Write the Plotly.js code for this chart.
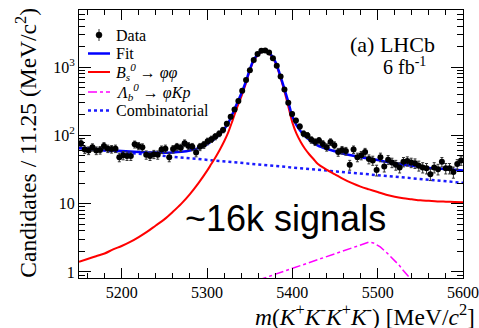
<!DOCTYPE html>
<html><head><meta charset="utf-8">
<script src="https://cdn.plot.ly/plotly-3.0.1.min.js"></script>
<style>html,body{margin:0;padding:0;background:#fff}#plot{width:479px;height:328px}</style>
</head><body><div id="plot"></div>
<script>
// Data histogram: 100 bins of 4.5 MeV from 5150 to 5600 (first bin centre 5152.25)
const binFirstCentre = 5152.25;
const binWidth = 4.5;
const dataCounts = [77,62,60,67,60,61,70,64,63,64,48,51,50,50,74,70,67,52,50,53,
  52,62,64,48,63,68,66,77,70,68,56,68,73,82,88,96,106,120,148,188,
  240,320,450,650,900,1270,1560,1740,1755,1640,1350,1050,730,470,300,205,165,135,106,100,
  86,80,84,75,67,80,72,57,61,59,37,62,48,51,57,45,43,31,48,35,
  44,40,37,34,41,42,40,39,36,34,33,27,34,32,41,33,33,29,38,43];

// Curve sampling points (MeV/c^2)
const curveMass = [5150,5160,5170,5180,5190,5200,5210,5220,5230,5240,5250,5260,5270,5280,5290,5300,
  5305,5310,5315,5320,5325,5330,5335,5340,5345,5350,5355,5360,5365,5370,5375,5380,5385,5390,5395,5400,
  5405,5410,5415,5420,5425,5430,5440,5450,5460,5470,5480,5490,5500,5510,5520,5530,5540,5550,5560,5570,5580,5590,5600];
const fitTotal = [66.0,64.5,63.1,61.6,60.3,59.2,58.1,57.2,56.4,56.0,55.8,56.2,57.4,59.9,65.0,74.1,
  81.3,90.6,103.9,123,153,207,291,403,589,910,1298,1552,1756,1735,1516,1211,812,515,317,190,
  140,114,97,86,78,71,63.7,58.6,54.0,50.6,47.8,45.8,43.5,41.0,39.0,37.3,36.0,34.6,33.4,32.7,32.0,31.3,30.7];
const bsSignal = [1.41,1.55,1.70,1.86,2.14,2.40,2.75,3.24,3.89,4.79,5.89,7.59,10.0,13.8,20.0,30.2,
  38.0,47.9,61.7,81.3,112,166,251,363,550,871,1259,1514,1718,1698,1479,1175,776,479,275,155,
  105,79.4,63.1,52.5,44.7,38.0,31.6,26.9,22.9,20.0,17.8,16.2,14.8,13.5,12.6,12.0,11.6,11.2,11.0,10.8,10.7,10.6,10.5];
const combMass = [5150,5200,5250,5300,5350,5400,5450,5500,5550,5600];
const combinatorial = [64.6,56.8,49.9,43.9,38.5,33.9,29.8,26.2,23.0,20.2];
const lbMass = [5340,5350,5375,5400,5425,5450,5465,5475,5485,5490,5495,5503,5510,5518,5525,5530,5538,5545];
const lbBkg = [0.60,0.685,0.88,1.13,1.45,1.86,2.16,2.37,2.63,2.74,2.66,2.32,1.95,1.57,1.26,1.05,0.81,0.56];

// Axis tick labels
const yTickVals = [1,10,100,1000];
const yTickText = ['1','10','10<sup>2</sup>','10<sup>3</sup>'];
const xTickVals = [5200,5300,5400,5500,5600];
const xTickText = ['5200','5300','5400','5500','5600'];

// Legend labels
const legendLabels = ['Data', 'Fit',
  '<i>B</i><sub><i>s</i></sub><sup><i>0</i></sup> → <i>φφ</i>',
  '<i>Λ</i><sub><i>b</i></sub><sup><i>0</i></sup> → <i>φKp</i>',
  'Combinatorial'];

const serif = 'Liberation Serif, Times New Roman, serif';
const colFit = '#0000ff', colBs = '#ff0000', colLb = '#ff00ff', colComb = '#1a1aff';

const traces = [
  {x: combMass, y: combinatorial, type:'scatter', mode:'lines', name:legendLabels[4],
   line:{color:colComb, width:2.5, dash:'dot'}},
  {x: lbMass, y: lbBkg, type:'scatter', mode:'lines', name:legendLabels[3],
   line:{color:colLb, width:1.5, dash:'dashdot'}},
  {x: curveMass, y: bsSignal, type:'scatter', mode:'lines', name:legendLabels[2],
   line:{color:colBs, width:2, shape:'spline'}},
  {x: curveMass, y: fitTotal, type:'scatter', mode:'lines', name:legendLabels[1],
   line:{color:colFit, width:2.5, shape:'spline'}},
  {x0: binFirstCentre, dx: binWidth, y: dataCounts, type:'scatter', mode:'markers', name:legendLabels[0],
   marker:{color:'#000', size:6},
   error_y:{type:'sqrt', visible:true, color:'#333', thickness:1, width:1.5}}
];

// Legend drawn as keys + text in paper coordinates (plot area: 79..463 px, 10..278 px)
const W = 384, H = 268, L = 79, B = 278;
const px = v => (v - L) / W;
const py = v => (B - v) / H;
const rowY = [35, 53.5, 72, 92, 110.5];
const keyX0 = 88, keyX1 = 110, keyXc = 99, textX = 114;
const keyStyles = [null,
  {color:colFit, width:2.5, dash:'solid'},
  {color:colBs, width:2, dash:'solid'},
  {color:colLb, width:1.5, dash:'dashdot'},
  {color:colComb, width:2.5, dash:'dot'}];

const shapes = [
  {type:'line', xref:'paper', yref:'paper', x0:px(keyXc), x1:px(keyXc), y0:py(rowY[0]+6), y1:py(rowY[0]-6),
   line:{color:'#333', width:1}},
  {type:'circle', xref:'paper', yref:'paper', x0:px(keyXc-3), x1:px(keyXc+3), y0:py(rowY[0]+3), y1:py(rowY[0]-3),
   fillcolor:'#000', line:{color:'#000', width:0.5}}
];
for (let k = 1; k < 5; k++) {
  shapes.push({type:'line', xref:'paper', yref:'paper', x0:px(keyX0), x1:px(keyX1), y0:py(rowY[k]), y1:py(rowY[k]),
               line:keyStyles[k]});
}

const annotations = [
  {xref:'paper', yref:'paper', x:-0.138, y:0.505, xanchor:'center', yanchor:'middle', textangle:-90, showarrow:false,
   text:'Candidates / 11.25 (MeV/c<sup>2</sup>)', font:{family:serif, size:23.5, color:'#000'}},
  {xref:'paper', yref:'paper', x:1.036, y:-0.137, xanchor:'right', yanchor:'middle', showarrow:false,
   text:'<i>m</i>(<i>K</i><sup>+</sup><i>K</i><sup>-</sup><i>K</i><sup>+</sup><i>K</i><sup>-</sup>) [MeV/<i>c</i><sup>2</sup>]',
   font:{family:serif, size:23.5, color:'#000'}},
  {xref:'paper', yref:'paper', x:0.932, y:0.872, xanchor:'right', yanchor:'middle', showarrow:false,
   text:'(a) LHCb', font:{family:serif, size:22, color:'#000'}},
  {xref:'paper', yref:'paper', x:0.909, y:0.792, xanchor:'right', yanchor:'middle', showarrow:false,
   text:'6 fb<sup>-1</sup>', font:{family:serif, size:20, color:'#000'}},
  {xref:'paper', yref:'paper', x:0.537, y:0.222, xanchor:'center', yanchor:'middle', showarrow:false,
   text:'~16k signals', font:{family:'Liberation Sans, Arial, sans-serif', size:36, color:'#000'}}
];
for (let k = 0; k < 5; k++) {
  annotations.push({xref:'paper', yref:'paper', x:px(textX), y:py(rowY[k]), xanchor:'left', yanchor:'middle',
                    showarrow:false, text:legendLabels[k], font:{family:serif, size:16, color:'#000'}});
}

const layout = {
  width:479, height:328,
  margin:{l:79, r:16, t:10, b:50},
  paper_bgcolor:'#fff', plot_bgcolor:'#fff',
  showlegend:false,
  xaxis:{range:[5150,5600], tickmode:'array', tickvals:xTickVals, ticktext:xTickText,
         ticks:'inside', ticklen:10, tickwidth:1, tickcolor:'#000',
         showline:true, linecolor:'#000', linewidth:1, mirror:'allticks',
         showgrid:false, zeroline:false,
         tickfont:{family:serif, size:16, color:'#000'},
         minor:{ticks:'inside', ticklen:5, dtick:20, tick0:5200, tickcolor:'#000', showgrid:false}},
  yaxis:{type:'log', range:[-0.089, 3.837], tickmode:'array', tickvals:yTickVals, ticktext:yTickText,
         ticks:'inside', ticklen:12, tickwidth:1, tickcolor:'#000',
         showline:true, linecolor:'#000', linewidth:1, mirror:'allticks',
         showgrid:false, zeroline:false,
         tickfont:{family:serif, size:16, color:'#000'},
         minor:{ticks:'inside', ticklen:6, dtick:'D1', tickcolor:'#000', showgrid:false}},
  shapes: shapes,
  annotations: annotations
};

Plotly.newPlot('plot', traces, layout, {staticPlot:true, displayModeBar:false});
</script></body></html>
